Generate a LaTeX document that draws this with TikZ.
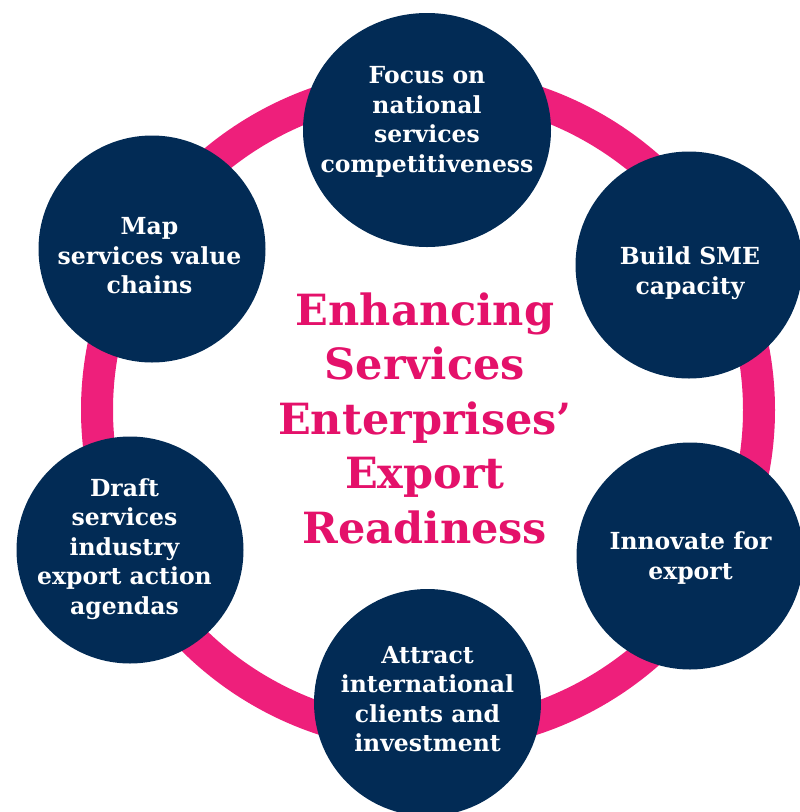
\documentclass[tikz,border=0pt]{standalone}
\usepackage{fontspec}
\setmainfont{DejaVu Serif}
\usepackage{tikz}
\usetikzlibrary{shapes.geometric}
\definecolor{navy}{RGB}{2,43,85}
\definecolor{ringpink}{RGB}{238,31,123}
\definecolor{titlepink}{RGB}{228,17,106}

\begin{document}
\begin{tikzpicture}[
x = 1pt, y = -1pt,
ring/.style = {draw = ringpink, line width = 32pt},
goal/.style = {circle, fill = navy, minimum size = 227pt, inner sep = 0pt},
goaltext/.style = {text = white, align = center, font = \bfseries\fontsize{23.5}{29.5}\selectfont},
headline/.style = {text = titlepink, align = center, font = \bfseries\fontsize{43}{54.5}\selectfont}
]
\useasboundingbox (0,0) rectangle (800,812);
\draw[ring] (428,410) ellipse [x radius = 331, y radius = 326];

\node[goal, ellipse, minimum width = 248pt, minimum height = 234pt] (focus) at (427,130) {};
\node[goal] (sme) at (689,265) {};
\node[goal] (innovate) at (690,556) {};
\node[goal] (attract) at (427.5,702.5) {};
\node[goal] (draft) at (130,550) {};
\node[goal] (map) at (152,249) {};

\node[goaltext] (focustext) at (427,122) {Focus on\\ national\\ services\\ competitiveness};
\node[goaltext] (smetext) at (690,273) {Build SME\\ capacity};
\node[goaltext] (innovatetext) at (690.5,558) {Innovate for\\ export};
\node[goaltext] (attracttext) at (427.5,699) {Attract\\ international\\ clients and\\ investment};
\node[goaltext] (drafttext) at (124.5,549) {Draft\\ services\\ industry\\ export action\\ agendas};
\node[goaltext] (maptext) at (149.5,256) {Map\\ services value\\ chains};

\node[headline] (title) at (425,418) {Enhancing\\ Services\\ Enterprises’\\ Export\\ Readiness};
\end{tikzpicture}
\end{document}
